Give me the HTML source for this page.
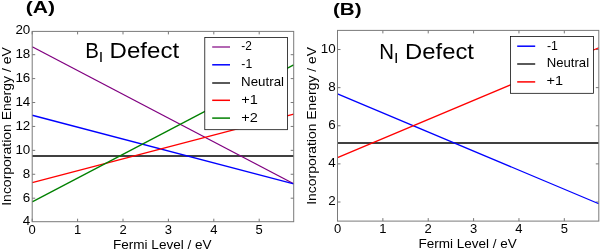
<!DOCTYPE html><html><head><meta charset="utf-8"><style>html,body{margin:0;padding:0;background:#fff;overflow:hidden;}svg{display:block;will-change:transform;}text{font-family:"Liberation Sans", sans-serif;fill:#000;}</style></head><body>
<svg width="601" height="252" viewBox="0 0 601 252">
<rect width="601" height="252" fill="#fff"/>
<line x1="32.20" y1="221.7" x2="32.20" y2="218.70" stroke="#555" stroke-width="0.8"/>
<line x1="32.20" y1="31.4" x2="32.20" y2="34.40" stroke="#555" stroke-width="0.8"/>
<line x1="77.60" y1="221.7" x2="77.60" y2="218.70" stroke="#555" stroke-width="0.8"/>
<line x1="77.60" y1="31.4" x2="77.60" y2="34.40" stroke="#555" stroke-width="0.8"/>
<line x1="123.00" y1="221.7" x2="123.00" y2="218.70" stroke="#555" stroke-width="0.8"/>
<line x1="123.00" y1="31.4" x2="123.00" y2="34.40" stroke="#555" stroke-width="0.8"/>
<line x1="168.40" y1="221.7" x2="168.40" y2="218.70" stroke="#555" stroke-width="0.8"/>
<line x1="168.40" y1="31.4" x2="168.40" y2="34.40" stroke="#555" stroke-width="0.8"/>
<line x1="213.80" y1="221.7" x2="213.80" y2="218.70" stroke="#555" stroke-width="0.8"/>
<line x1="213.80" y1="31.4" x2="213.80" y2="34.40" stroke="#555" stroke-width="0.8"/>
<line x1="259.20" y1="221.7" x2="259.20" y2="218.70" stroke="#555" stroke-width="0.8"/>
<line x1="259.20" y1="31.4" x2="259.20" y2="34.40" stroke="#555" stroke-width="0.8"/>
<line x1="32.2" y1="198.20" x2="35.20" y2="198.20" stroke="#555" stroke-width="0.8"/>
<line x1="293.7" y1="198.20" x2="290.70" y2="198.20" stroke="#555" stroke-width="0.8"/>
<line x1="32.2" y1="174.28" x2="35.20" y2="174.28" stroke="#555" stroke-width="0.8"/>
<line x1="293.7" y1="174.28" x2="290.70" y2="174.28" stroke="#555" stroke-width="0.8"/>
<line x1="32.2" y1="150.36" x2="35.20" y2="150.36" stroke="#555" stroke-width="0.8"/>
<line x1="293.7" y1="150.36" x2="290.70" y2="150.36" stroke="#555" stroke-width="0.8"/>
<line x1="32.2" y1="126.44" x2="35.20" y2="126.44" stroke="#555" stroke-width="0.8"/>
<line x1="293.7" y1="126.44" x2="290.70" y2="126.44" stroke="#555" stroke-width="0.8"/>
<line x1="32.2" y1="102.52" x2="35.20" y2="102.52" stroke="#555" stroke-width="0.8"/>
<line x1="293.7" y1="102.52" x2="290.70" y2="102.52" stroke="#555" stroke-width="0.8"/>
<line x1="32.2" y1="78.60" x2="35.20" y2="78.60" stroke="#555" stroke-width="0.8"/>
<line x1="293.7" y1="78.60" x2="290.70" y2="78.60" stroke="#555" stroke-width="0.8"/>
<line x1="32.2" y1="54.68" x2="35.20" y2="54.68" stroke="#555" stroke-width="0.8"/>
<line x1="293.7" y1="54.68" x2="290.70" y2="54.68" stroke="#555" stroke-width="0.8"/>
<line x1="32.20" y1="156.07" x2="293.70" y2="156.07" stroke="#000" stroke-width="1.5"/>
<line x1="32.20" y1="46.74" x2="293.70" y2="183.76" stroke="#800080" stroke-width="1.3"/>
<line x1="32.20" y1="115.25" x2="293.70" y2="183.76" stroke="#0000ff" stroke-width="1.3"/>
<line x1="32.20" y1="182.57" x2="293.70" y2="114.06" stroke="#ff0000" stroke-width="1.3"/>
<line x1="32.20" y1="201.84" x2="293.70" y2="64.82" stroke="#008000" stroke-width="1.3"/>
<rect x="32.2" y="31.4" width="261.50" height="190.30" fill="none" stroke="#7a7a7a" stroke-width="1"/>
<rect x="204.8" y="37.5" width="82.7" height="92.2" fill="#fff" stroke="#000" stroke-width="0.75"/>
<line x1="212.2" y1="47.0" x2="230" y2="47.0" stroke="#800080" stroke-width="1.2"/>
<text x="241.37" y="50.40" font-size="12.2" textLength="10.52" lengthAdjust="spacingAndGlyphs">-2</text>
<line x1="212.2" y1="64.8" x2="230" y2="64.8" stroke="#0000ff" stroke-width="1.5"/>
<text x="241.36" y="68.20" font-size="12.2" textLength="10.84" lengthAdjust="spacingAndGlyphs">-1</text>
<line x1="212.2" y1="83.0" x2="230" y2="83.0" stroke="#000" stroke-width="1.3"/>
<text x="241.11" y="85.90" font-size="12.2" textLength="42.88" lengthAdjust="spacingAndGlyphs">Neutral</text>
<line x1="212.2" y1="100.3" x2="230" y2="100.3" stroke="#ff0000" stroke-width="1.5"/>
<text x="241.19" y="103.90" font-size="12.2" textLength="16.62" lengthAdjust="spacingAndGlyphs">+1</text>
<line x1="212.2" y1="118.1" x2="230" y2="118.1" stroke="#008000" stroke-width="1.5"/>
<text x="241.19" y="121.50" font-size="12.2" textLength="16.54" lengthAdjust="spacingAndGlyphs">+2</text>
<text x="85.22" y="58.10" font-size="22.1" textLength="13.66" lengthAdjust="spacingAndGlyphs">B</text>
<text x="98.72" y="61.70" font-size="14.2" textLength="4.47" lengthAdjust="spacingAndGlyphs">I</text>
<text x="109.63" y="58.10" font-size="22.1" textLength="69.45" lengthAdjust="spacingAndGlyphs">Defect</text>
<text x="30.30" y="225.42" font-size="13" text-anchor="end" textLength="7.45" lengthAdjust="spacingAndGlyphs">4</text>
<text x="30.30" y="201.50" font-size="13" text-anchor="end" textLength="7.45" lengthAdjust="spacingAndGlyphs">6</text>
<text x="30.30" y="177.58" font-size="13" text-anchor="end" textLength="7.45" lengthAdjust="spacingAndGlyphs">8</text>
<text x="30.30" y="153.66" font-size="13" text-anchor="end" textLength="14.89" lengthAdjust="spacingAndGlyphs">10</text>
<text x="30.30" y="129.74" font-size="13" text-anchor="end" textLength="14.89" lengthAdjust="spacingAndGlyphs">12</text>
<text x="30.30" y="105.82" font-size="13" text-anchor="end" textLength="14.89" lengthAdjust="spacingAndGlyphs">14</text>
<text x="30.30" y="81.90" font-size="13" text-anchor="end" textLength="14.89" lengthAdjust="spacingAndGlyphs">16</text>
<text x="30.30" y="57.98" font-size="13" text-anchor="end" textLength="14.89" lengthAdjust="spacingAndGlyphs">18</text>
<text x="30.30" y="34.06" font-size="13" text-anchor="end" textLength="14.89" lengthAdjust="spacingAndGlyphs">20</text>
<text x="32.20" y="233.70" font-size="13" text-anchor="middle" textLength="7.23" lengthAdjust="spacingAndGlyphs">0</text>
<text x="77.60" y="233.70" font-size="13" text-anchor="middle" textLength="7.23" lengthAdjust="spacingAndGlyphs">1</text>
<text x="123.00" y="233.70" font-size="13" text-anchor="middle" textLength="7.23" lengthAdjust="spacingAndGlyphs">2</text>
<text x="168.40" y="233.70" font-size="13" text-anchor="middle" textLength="7.23" lengthAdjust="spacingAndGlyphs">3</text>
<text x="213.80" y="233.70" font-size="13" text-anchor="middle" textLength="7.23" lengthAdjust="spacingAndGlyphs">4</text>
<text x="259.20" y="233.70" font-size="13" text-anchor="middle" textLength="7.23" lengthAdjust="spacingAndGlyphs">5</text>
<text x="112.99" y="248.70" font-size="12.5" textLength="98.67" lengthAdjust="spacingAndGlyphs">Fermi Level / eV</text>
<text transform="rotate(-90)" x="-205.79" y="10.50" font-size="12.5" textLength="158.55" lengthAdjust="spacingAndGlyphs">Incorporation Energy / eV</text>
<text x="25.75" y="13.10" font-size="16.0" font-weight="bold" textLength="29.30" lengthAdjust="spacingAndGlyphs">(A)</text>
<line x1="337.50" y1="221.1" x2="337.50" y2="218.10" stroke="#555" stroke-width="0.8"/>
<line x1="337.50" y1="30.4" x2="337.50" y2="33.40" stroke="#555" stroke-width="0.8"/>
<line x1="382.86" y1="221.1" x2="382.86" y2="218.10" stroke="#555" stroke-width="0.8"/>
<line x1="382.86" y1="30.4" x2="382.86" y2="33.40" stroke="#555" stroke-width="0.8"/>
<line x1="428.23" y1="221.1" x2="428.23" y2="218.10" stroke="#555" stroke-width="0.8"/>
<line x1="428.23" y1="30.4" x2="428.23" y2="33.40" stroke="#555" stroke-width="0.8"/>
<line x1="473.59" y1="221.1" x2="473.59" y2="218.10" stroke="#555" stroke-width="0.8"/>
<line x1="473.59" y1="30.4" x2="473.59" y2="33.40" stroke="#555" stroke-width="0.8"/>
<line x1="518.96" y1="221.1" x2="518.96" y2="218.10" stroke="#555" stroke-width="0.8"/>
<line x1="518.96" y1="30.4" x2="518.96" y2="33.40" stroke="#555" stroke-width="0.8"/>
<line x1="564.32" y1="221.1" x2="564.32" y2="218.10" stroke="#555" stroke-width="0.8"/>
<line x1="564.32" y1="30.4" x2="564.32" y2="33.40" stroke="#555" stroke-width="0.8"/>
<line x1="337.5" y1="202.00" x2="340.50" y2="202.00" stroke="#555" stroke-width="0.8"/>
<line x1="598.8" y1="202.00" x2="595.80" y2="202.00" stroke="#555" stroke-width="0.8"/>
<line x1="337.5" y1="163.88" x2="340.50" y2="163.88" stroke="#555" stroke-width="0.8"/>
<line x1="598.8" y1="163.88" x2="595.80" y2="163.88" stroke="#555" stroke-width="0.8"/>
<line x1="337.5" y1="125.76" x2="340.50" y2="125.76" stroke="#555" stroke-width="0.8"/>
<line x1="598.8" y1="125.76" x2="595.80" y2="125.76" stroke="#555" stroke-width="0.8"/>
<line x1="337.5" y1="87.64" x2="340.50" y2="87.64" stroke="#555" stroke-width="0.8"/>
<line x1="598.8" y1="87.64" x2="595.80" y2="87.64" stroke="#555" stroke-width="0.8"/>
<line x1="337.5" y1="49.52" x2="340.50" y2="49.52" stroke="#555" stroke-width="0.8"/>
<line x1="598.8" y1="49.52" x2="595.80" y2="49.52" stroke="#555" stroke-width="0.8"/>
<line x1="337.50" y1="142.91" x2="598.80" y2="142.91" stroke="#000" stroke-width="1.5"/>
<line x1="337.50" y1="93.90" x2="598.80" y2="203.75" stroke="#0000ff" stroke-width="1.3"/>
<line x1="337.50" y1="157.60" x2="598.80" y2="47.75" stroke="#ff0000" stroke-width="1.3"/>
<rect x="337.5" y="30.4" width="261.30" height="190.70" fill="none" stroke="#7a7a7a" stroke-width="1"/>
<rect x="510.4" y="36.4" width="83" height="56.9" fill="#fff" stroke="#000" stroke-width="0.75"/>
<line x1="517.2" y1="46.2" x2="535.2" y2="46.2" stroke="#0000ff" stroke-width="1.5"/>
<text x="546.95" y="49.90" font-size="12.2" textLength="10.95" lengthAdjust="spacingAndGlyphs">-1</text>
<line x1="517.2" y1="64.0" x2="535.2" y2="64.0" stroke="#000" stroke-width="1.3"/>
<text x="546.72" y="67.40" font-size="12.2" textLength="42.36" lengthAdjust="spacingAndGlyphs">Neutral</text>
<line x1="517.2" y1="81.9" x2="535.2" y2="81.9" stroke="#ff0000" stroke-width="1.5"/>
<text x="546.59" y="85.40" font-size="12.2" textLength="16.51" lengthAdjust="spacingAndGlyphs">+1</text>
<text x="379.13" y="58.60" font-size="22.1" textLength="14.74" lengthAdjust="spacingAndGlyphs">N</text>
<text x="394.12" y="62.90" font-size="14.2" textLength="4.47" lengthAdjust="spacingAndGlyphs">I</text>
<text x="405.04" y="58.60" font-size="22.1" textLength="68.93" lengthAdjust="spacingAndGlyphs">Defect</text>
<text x="335.60" y="205.30" font-size="13" text-anchor="end" textLength="7.45" lengthAdjust="spacingAndGlyphs">2</text>
<text x="335.60" y="167.18" font-size="13" text-anchor="end" textLength="7.45" lengthAdjust="spacingAndGlyphs">4</text>
<text x="335.60" y="129.06" font-size="13" text-anchor="end" textLength="7.45" lengthAdjust="spacingAndGlyphs">6</text>
<text x="335.60" y="90.94" font-size="13" text-anchor="end" textLength="7.45" lengthAdjust="spacingAndGlyphs">8</text>
<text x="335.60" y="52.82" font-size="13" text-anchor="end" textLength="14.89" lengthAdjust="spacingAndGlyphs">10</text>
<text x="337.50" y="232.90" font-size="13" text-anchor="middle" textLength="7.23" lengthAdjust="spacingAndGlyphs">0</text>
<text x="382.86" y="232.90" font-size="13" text-anchor="middle" textLength="7.23" lengthAdjust="spacingAndGlyphs">1</text>
<text x="428.23" y="232.90" font-size="13" text-anchor="middle" textLength="7.23" lengthAdjust="spacingAndGlyphs">2</text>
<text x="473.59" y="232.90" font-size="13" text-anchor="middle" textLength="7.23" lengthAdjust="spacingAndGlyphs">3</text>
<text x="518.96" y="232.90" font-size="13" text-anchor="middle" textLength="7.23" lengthAdjust="spacingAndGlyphs">4</text>
<text x="564.32" y="232.90" font-size="13" text-anchor="middle" textLength="7.23" lengthAdjust="spacingAndGlyphs">5</text>
<text x="418.59" y="247.70" font-size="12.5" textLength="98.27" lengthAdjust="spacingAndGlyphs">Fermi Level / eV</text>
<text transform="rotate(-90)" x="-204.78" y="316.40" font-size="12.5" textLength="157.74" lengthAdjust="spacingAndGlyphs">Incorporation Energy / eV</text>
<text x="332.97" y="15.10" font-size="16.0" font-weight="bold" textLength="28.66" lengthAdjust="spacingAndGlyphs">(B)</text>
</svg></body></html>
